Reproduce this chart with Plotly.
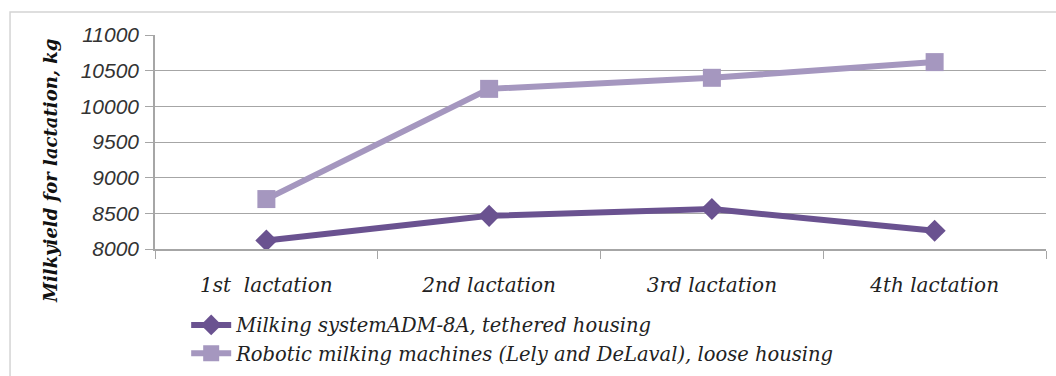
import plotly.graph_objects as go

categories = ["1st\u00a0 lactation", "2nd lactation", "3rd lactation", "4th lactation"]
adm_values = [8120, 8465, 8560, 8255]
robot_values = [8700, 10245, 10400, 10620]
series_names = ["Milking systemADM-8A, tethered housing",
                "Robotic milking machines (Lely and DeLaval), loose housing"]
y_ticks = [8000, 8500, 9000, 9500, 10000, 10500, 11000]
y_tick_text = [str(v) for v in y_ticks]
y_title = "Milkyield for lactation, kg"

dark = "#6a5290"
light = "#a597bf"

fig = go.Figure()
fig.add_trace(go.Scatter(
    x=categories, y=adm_values, name=series_names[0], mode="lines+markers",
    line=dict(color=dark, width=6),
    marker=dict(symbol="diamond", size=17, color=dark),
))
fig.add_trace(go.Scatter(
    x=categories, y=robot_values, name=series_names[1], mode="lines+markers",
    line=dict(color=light, width=6),
    marker=dict(symbol="square", size=18, color=light),
))

fig.update_layout(
    width=1056, height=376,
    margin=dict(l=155, r=10, t=35, b=127, autoexpand=False),
    paper_bgcolor="white", plot_bgcolor="white",
    showlegend=True,
    legend=dict(
        x=0.035, y=-0.265, xanchor="left", yanchor="top",
        font=dict(family="DejaVu Serif", size=19.5, color="#222222", style="italic"),
        tracegroupgap=0, itemwidth=40,
        bgcolor="rgba(0,0,0,0)",
    ),
    shapes=[dict(type="rect", xref="paper", yref="paper",
                 x0=-0.1627, x1=1.2, y0=-0.8, y1=1.107,
                 line=dict(color="#d4d4d4", width=1.5), fillcolor="rgba(0,0,0,0)", layer="below")],
    annotations=[dict(
        text=y_title, textangle=-90, xref="paper", yref="paper",
        x=-0.118, y=0.364, xanchor="center", yanchor="middle", showarrow=False,
        font=dict(family="DejaVu Serif", size=18, color="#111111", style="italic", weight="bold"),
    )],
)

fig.update_xaxes(
    type="category", tickson="boundaries", ticks="outside", ticklen=8,
    tickcolor="#a6a6a6", showline=True, linecolor="#a6a6a6", linewidth=1.5,
    showgrid=False, range=[-0.5, 3.5], ticklabelstandoff=17,
    tickfont=dict(family="DejaVu Serif", size=20, color="#222222", style="italic"),
)
fig.update_yaxes(
    range=[8000, 11000], tickvals=y_ticks, ticktext=y_tick_text, ticks="outside", ticklen=8,
    tickcolor="#a6a6a6", showline=True, linecolor="#a6a6a6", linewidth=1.5,
    showgrid=True, gridcolor="#a6a6a6", gridwidth=1.2, zeroline=False,
    ticklabelstandoff=2,
    tickfont=dict(family="Liberation Sans", size=21, color="#333333", style="italic"),
)

fig.write_html("out.html")
